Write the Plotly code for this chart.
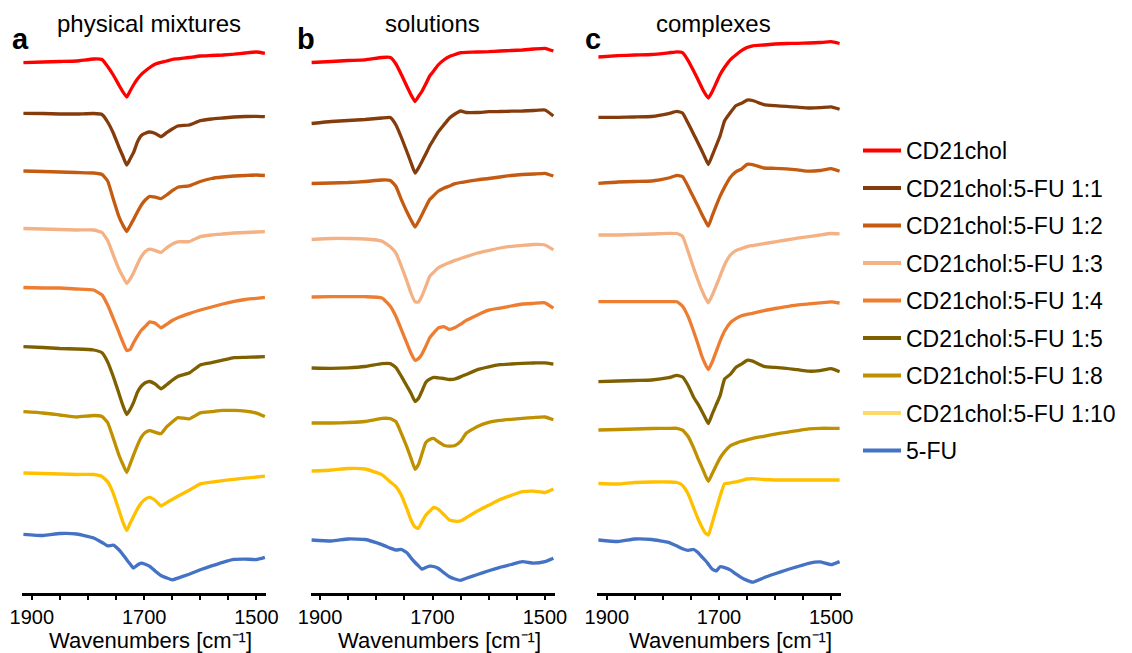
import plotly.graph_objects as go

# ---------------- data (wavenumbers in cm^-1, stacked offset absorbance-like values, a.u.) -------------
wavenumbers = [1915, 1880, 1850, 1820, 1790, 1775, 1765, 1755, 1745, 1738, 1731, 1725, 1719, 1712, 1705,
               1698, 1690, 1680, 1670, 1660, 1650, 1640, 1620, 1600, 1580, 1560, 1540, 1520, 1500, 1485]

series_names = ["CD21chol", "CD21chol:5-FU 1:1", "CD21chol:5-FU 1:2", "CD21chol:5-FU 1:3",
                "CD21chol:5-FU 1:4", "CD21chol:5-FU 1:5", "CD21chol:5-FU 1:8", "CD21chol:5-FU 1:10", "5-FU"]

line_colors = ["#FF0000", "#843C0C", "#C55A11", "#F4B183", "#ED7D31", "#7F6000", "#BF9000", "#FFC000", "#4472C4"]
legend_colors = ["#FF0000", "#843C0C", "#C55A11", "#F4B183", "#ED7D31", "#7F6000", "#BF9000", "#FFD966", "#4472C4"]

panel_titles = ["physical mixtures", "solutions", "complexes"]
panel_letters = ["a", "b", "c"]
axis_title = "Wavenumbers [cm\u207b\u00b9]"
tick_values = [1900, 1850, 1800, 1750, 1700, 1650, 1600, 1550, 1500]
tick_labels = ["1900", "", "", "", "1700", "", "", "", "1500"]

# physical mixtures
pm_cd21chol = [62.7, 62, 61.5, 61, 59, 59.5, 66.5, 75, 85, 91.7, 97, 91, 85, 79, 74.3, 71, 67.5, 64, 62.3, 61,
               59.5, 58.8, 57.5, 56, 55.5, 55, 54.2, 53, 52, 53.3]
pm_1_1 = [113.3, 113.5, 114, 114, 113.5, 114.5, 122, 133, 147, 156, 165, 159, 152.7, 142, 135.5, 133.3, 132, 133.5,
          136.7, 132.7, 129, 126, 125, 120.7, 119, 118, 117, 116.5, 116.3, 116.7]
pm_1_2 = [171, 171.5, 172, 172.5, 173, 174.5, 181, 199, 216.5, 225, 231.5, 225.7, 219.6, 212, 205, 200, 196.3, 197.2,
          198.6, 195, 190.7, 187.2, 185.8, 181.5, 178.5, 177, 176, 175.5, 175, 175.5]
pm_1_3 = [228.5, 229, 229.5, 230, 230, 232.5, 240.6, 255, 269, 276.5, 283.5, 279, 272.9, 264.2, 256.7, 251.6, 249.2,
          250.6, 252.4, 247.8, 244.1, 241.8, 241.6, 236.6, 235, 234, 233, 232.5, 232, 231.7]
pm_1_4 = [287.5, 288, 288, 289, 290, 295, 305, 318.3, 332.2, 342, 350.5, 349.5, 343, 336.2, 330.3, 326.4, 321.9,
          323.2, 327.8, 324.3, 320.5, 317.7, 313.6, 310, 307, 304, 301.3, 299.5, 298.3, 297.3]
pm_1_5 = [346.7, 347.5, 348.5, 349, 350, 352.7, 361.9, 376.5, 393.3, 405.2, 414.5, 409.5, 402.7, 392.2, 386.2, 382.8,
          381.5, 384.2, 388.8, 384.8, 380.2, 376.4, 373.1, 364.9, 362.7, 360.2, 357.7, 357.3, 357, 356.7]
pm_1_8 = [411.7, 413, 415, 417, 415.5, 416.5, 422.5, 438.3, 455, 464.3, 472.5, 464.1, 455.2, 445.3, 437.1, 432.5,
          430.7, 432.3, 433.7, 426.9, 421.9, 417.6, 418.9, 412.9, 411.7, 410.4, 410.4, 411.2, 413.1, 416.6]
pm_1_10 = [473, 473.5, 474, 474.5, 474.5, 476.5, 481.8, 493.3, 510, 521.9, 530.5, 523.3, 516.6, 508.9, 502.9, 499.1,
           497.4, 500.5, 505.9, 502.6, 499.4, 496.2, 490.3, 483.9, 482.2, 480.6, 479.3, 478.1, 477, 476.2]
pm_5fu = [534.3, 535.5, 533.5, 534, 538, 542.5, 545.9, 545.2, 549.7, 554.4, 559.7, 564, 568.1, 565, 563.1, 564.2,
          566.3, 571.2, 575.5, 577.9, 579.8, 578.1, 574.2, 569.8, 565.9, 562.3, 559.4, 559.1, 559.5, 557.3]

# solutions
so_cd21chol = [62.5, 61.5, 60.5, 59.8, 57.5, 57.5, 64, 75, 87, 95, 101.5, 96.5, 91.5, 84, 76, 71, 65, 60, 56.5, 54.5,
               52.7, 52.3, 52, 51.7, 51, 50.5, 50, 49, 48.3, 51]
so_1_1 = [123.5, 121.5, 120.5, 119.5, 118, 117.5, 125, 138, 152.5, 163, 173, 168, 161.7, 154, 146, 139.5, 132, 125,
          118.2, 114, 111, 112.5, 112.5, 111.7, 111.5, 111.2, 111, 110.5, 110, 116]
so_1_2 = [183.5, 183, 182.5, 181.5, 180, 180.4, 186.5, 200.2, 212.5, 220.2, 227, 221.5, 215, 207, 199.6, 195.7, 191.2,
          188.2, 186, 183.7, 182.5, 181.6, 179.8, 178.5, 177, 175.5, 174.5, 174, 173.3, 176]
so_1_3 = [239.5, 238.5, 238.5, 239, 241.1, 246.7, 253.2, 266.8, 282, 293.5, 301.9, 302, 296.3, 286.5, 276.3, 272.4,
          267.9, 264.9, 262.6, 260.4, 258.5, 256.6, 253, 250.5, 248, 246.3, 245.4, 244.5, 245, 249.8]
so_1_4 = [297, 296.7, 296.7, 296.7, 297.9, 306.2, 316.5, 330.2, 343.9, 353.5, 360.2, 358.6, 354.3, 346.4, 337.8, 333.1,
          328.1, 326.6, 329.3, 327.6, 324.2, 320.4, 314.9, 310.2, 308.1, 306, 304, 303.4, 302.8, 308.2]
so_1_5 = [368, 368.3, 367.8, 366.5, 363.7, 363.6, 367.6, 376.7, 386.5, 393.5, 401.5, 398.5, 391.4, 382.4, 379.2, 377.4,
          377.8, 378.5, 379.5, 379, 376.8, 374.4, 369.6, 366.8, 364.7, 364, 363.3, 363, 362.8, 364.1]
so_1_8 = [423, 423, 422.5, 421.5, 418.4, 418.7, 421.7, 434, 447.9, 458.6, 469.3, 464.5, 454.3, 442.6, 439.5, 438.4,
          441.7, 445.2, 446.2, 445.5, 441.4, 433.2, 426.4, 422.3, 420.4, 419.3, 418.3, 417.6, 417, 419.7]
so_1_10 = [471, 470, 468.5, 469, 474.6, 481.9, 486.6, 495.7, 509.7, 520.3, 527.1, 528.3, 522.1, 515.3, 511.2, 507.4,
           509.2, 514.5, 520, 521.2, 520.9, 517.6, 511, 505.3, 499.6, 495.4, 491.7, 491.1, 492.5, 489]
so_5fu = [540, 541, 539, 539.5, 544.6, 548.1, 550, 549.5, 553, 558.1, 562.5, 565.8, 569.2, 567.5, 566.2, 566.5, 568.3,
          572.6, 576.7, 579, 580.3, 578.3, 574.5, 570.7, 567.3, 564.5, 561.7, 563.2, 561.7, 558.3]

# complexes
co_cd21chol = [57, 55.7, 55, 54.5, 52.8, 51.8, 52.6, 60.6, 71.2, 79, 87.2, 93.4, 98, 91.5, 83, 74.5, 67.3, 59.8, 55,
               50.7, 47.5, 45.8, 45, 44, 43.5, 43.3, 43, 42.5, 41.7, 43.5]
co_1_1 = [117.3, 117.3, 117, 116.5, 113.6, 111.4, 113, 123.3, 134.4, 142.2, 150.3, 157.5, 164.5, 155.4, 145.6, 135.7,
          120.7, 112.7, 105.7, 103.3, 100.1, 100.5, 104.6, 105.7, 106.4, 107.2, 108, 107.7, 106.8, 109.2]
co_1_2 = [183.3, 182, 181.5, 181, 178, 175.4, 176.5, 186.6, 197.8, 205.5, 213.7, 220.3, 226.2, 215.7, 205.6, 196.1,
          187.1, 177.5, 171.9, 169.1, 164.4, 164.6, 168, 168.3, 168.9, 169.8, 171.2, 170.5, 168.6, 171.2]
co_1_3 = [235, 235, 234.5, 234, 233.3, 233.5, 236.3, 251.6, 268.4, 279.5, 289.6, 296.9, 302.9, 295.1, 285.6, 276,
          264.7, 255.2, 250.6, 248.6, 246.6, 245.6, 243.7, 241.8, 240, 238.1, 236.6, 235, 233.5, 233.9]
co_1_4 = [301.7, 301.7, 301.7, 301.7, 301.7, 301.7, 306.2, 316.6, 331.7, 343.3, 355.5, 363.6, 369.6, 361.8, 351.5, 341,
          331, 322.8, 318.6, 315.8, 314.3, 313.4, 310.6, 308.5, 306.7, 304.9, 303.9, 302.9, 301.8, 303]
co_1_5 = [381.7, 381, 380.5, 380, 377.7, 375.4, 377, 385.5, 397.5, 403.7, 410.7, 417.2, 423.5, 413.9, 404.7, 395.6,
          379, 374.4, 367.4, 364.1, 360.3, 361.2, 366.3, 367.4, 368.3, 369.7, 371.2, 370.6, 368.6, 371.7]
co_1_8 = [430, 429.5, 429, 428.5, 428.3, 428.3, 430.2, 436.5, 448.2, 457.8, 466.6, 474.6, 481.3, 473.5, 465.5, 457.9,
          451.6, 445.8, 443.4, 441.3, 439.8, 438.4, 436.3, 434.1, 432.3, 430.6, 428.9, 428.3, 428.3, 428.4]
co_1_10 = [483.5, 484, 482.5, 482, 482, 482.5, 485.5, 494, 508.2, 518, 526.6, 532.6, 535, 522.8, 509.3, 495.9, 483.8,
           482.9, 481.9, 480.5, 479, 478.6, 479.5, 480, 480, 480, 480, 480, 480, 480]
co_5fu = [540, 541.5, 539, 539.5, 542.4, 546.1, 548.7, 550.4, 549.5, 552.3, 556.5, 560, 564.1, 569.3, 571, 566.8,
          567.6, 569.9, 573.9, 577.6, 580.4, 582.2, 577.7, 573.8, 570, 566.6, 563.3, 561.9, 564.6, 561.6]

panels = [
    [pm_cd21chol, pm_1_1, pm_1_2, pm_1_3, pm_1_4, pm_1_5, pm_1_8, pm_1_10, pm_5fu],
    [so_cd21chol, so_1_1, so_1_2, so_1_3, so_1_4, so_1_5, so_1_8, so_1_10, so_5fu],
    [co_cd21chol, co_1_1, co_1_2, co_1_3, co_1_4, co_1_5, co_1_8, co_1_10, co_5fu],
]

# ---------------- figure -------------
# the page body keeps its default 8px margin, so the figure is drawn 8px in from the window corner
OFF = 8
W, H = 1132 - OFF, 653 - OFF
FONT = "Liberation Sans, Arial, sans-serif"


def fx(px):
    return (px - OFF) / W


def fy(py):
    return 1 - (py - OFF) / H


x_domains_px = [(22.3, 266.0), (310.5, 554.5), (597.3, 840.7)]
plot_top_px, plot_bottom_px = 30.0, 592.7

fig = go.Figure()

for p, curves in enumerate(panels):
    xa = "x" if p == 0 else f"x{p + 1}"
    ya = "y" if p == 0 else f"y{p + 1}"
    for i, vals in enumerate(curves):
        fig.add_trace(go.Scatter(
            x=wavenumbers, y=vals, mode="lines", xaxis=xa, yaxis=ya,
            line=dict(color=line_colors[i], width=3.3, shape="spline", smoothing=0.4),
            showlegend=False, hoverinfo="skip"))

# legend-only entries
for i, name in enumerate(series_names):
    fig.add_trace(go.Scatter(
        x=[None], y=[None], mode="lines", name=name, legendgroup=f"g{i}",
        line=dict(color=legend_colors[i], width=4), showlegend=True))

layout = dict(
    width=W, height=H, paper_bgcolor="white", plot_bgcolor="white",
    margin=dict(l=0, r=0, t=0, b=0, autoexpand=False),
    font=dict(family=FONT, color="black"),
    legend=dict(xref="container", yref="container", x=fx(858), y=fy(129), xanchor="left", yanchor="top",
                font=dict(size=23, family=FONT, color="black"), maxheight=600,
                tracegroupgap=4.6, itemwidth=38, bgcolor="rgba(0,0,0,0)"),
)

y_dom = [fy(plot_bottom_px), fy(plot_top_px)]
for p in range(3):
    sfx = "" if p == 0 else str(p + 1)
    x0, x1 = x_domains_px[p]
    layout[f"xaxis{sfx}"] = dict(
        domain=[fx(x0), fx(x1)], range=[1917, 1483], anchor=f"y{sfx}", automargin=False,
        showline=True, linecolor="black", linewidth=3, showgrid=False, zeroline=False,
        ticks="outside", ticklen=4, tickwidth=2, tickcolor="black",
        tickvals=tick_values, ticktext=tick_labels,
        tickfont=dict(size=20, family=FONT, color="black"))
    layout[f"yaxis{sfx}"] = dict(
        domain=y_dom, range=[plot_bottom_px, plot_top_px], anchor=f"x{sfx}", automargin=False,
        visible=False, showgrid=False, zeroline=False)

fig.update_layout(**layout)

title_x_px = [150, 439, 730]
panel_title_x_px = [149, 432, 713]
letter_x_px = [10, 295, 583]
for p in range(3):
    fig.add_annotation(text=axis_title, xref="paper", yref="paper",
                       x=fx(title_x_px[p]), y=fy(640), xanchor="center", yanchor="middle",
                       showarrow=False, font=dict(size=22, family=FONT, color="black"))
    fig.add_annotation(text=panel_titles[p], xref="paper", yref="paper",
                       x=fx(panel_title_x_px[p]), y=fy(23), xanchor="center", yanchor="middle",
                       showarrow=False, font=dict(size=24, family=FONT, color="black"))
    fig.add_annotation(text=f"<b>{panel_letters[p]}</b>", xref="paper", yref="paper",
                       x=fx(letter_x_px[p]), y=fy(39), xanchor="left", yanchor="middle",
                       showarrow=False, font=dict(size=29, family=FONT, color="black"))

fig.write_html("out.html")
